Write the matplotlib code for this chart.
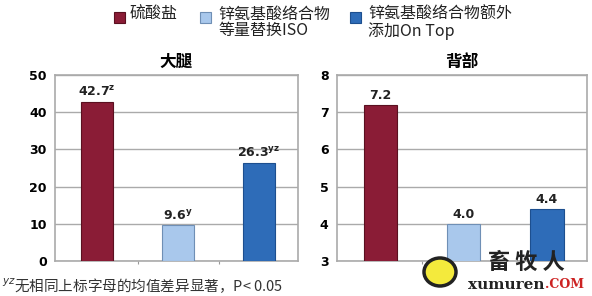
import matplotlib.pyplot as plt
import matplotlib.patches as mpatches

plt.rcParams['font.family'] = ['Noto Sans CJK SC', 'DejaVu Sans']

groups = ['硫酸盐', '锌氨基酸络合物\n等量替换ISO', '锌氨基酸络合物额外\n添加On Top']
colors = ['#8a1c36', '#a9c8ec', '#2e6cb8']
edges = ['#5a1020', '#6f8fb5', '#1d4f8f']

thigh = [42.7, 9.6, 26.3]
thigh_sup = ['z', 'y', 'yz']
back = [7.2, 4.0, 4.4]
back_sup = ['', '', '']

fig = plt.figure(figsize=(5.92, 2.96), dpi=100)
ax1 = fig.add_axes([55/592, 1-261/296, 243/592, 186/296])
ax2 = fig.add_axes([337/592, 1-261/296, 250/592, 186/296])


def draw(ax, vals, sups, ylim, ticks, title):
    x = range(len(vals))
    ax.bar(x, vals, width=0.4, color=colors, edgecolor=edges, linewidth=0.8, zorder=3)
    ax.set_ylim(*ylim)
    ax.set_xlim(-0.52, 2.48)
    ax.set_yticks(ticks)
    ax.set_yticklabels([str(t) for t in ticks], fontweight='bold', fontsize=9,
                       family='DejaVu Sans')
    ax.set_xticks([0.5, 1.5])
    ax.set_xticklabels([])
    ax.tick_params(axis='x', length=2, color='#999999')
    ax.tick_params(axis='y', length=0, pad=6)
    ax.grid(axis='y', color='#aaaaaa', linewidth=1, zorder=0)
    for s in ax.spines.values():
        s.set_color('#aaaaaa')
        s.set_linewidth(1.2)
    span = ylim[1] - ylim[0]
    for i, (v, s) in enumerate(zip(vals, sups)):
        lbl = '%.1f' % v
        if s:
            lbl = r'$\mathbf{%s}^{\mathbf{%s}}$' % (lbl, s)
        ax.text(i, v + span * 0.015, lbl, ha='center', va='bottom',
                fontsize=9, fontweight='bold', family='DejaVu Sans', color='#222222')
    ax.set_title(title, fontsize=12, fontweight='bold', pad=6)


draw(ax1, thigh, thigh_sup, (0, 50), [0, 10, 20, 30, 40, 50], '大腿')
draw(ax2, back, back_sup, (3, 8), [3, 4, 5, 6, 7, 8], '背部')

# legend
leg_x = [114, 200, 350]
txt_x = [130, 218, 368]
for lx, tx, g, c, e in zip(leg_x, txt_x, groups, colors, edges):
    fig.patches.append(mpatches.Rectangle((lx/592, 1-23/296), 11/592, 11/296,
                                          transform=fig.transFigure,
                                          facecolor=c, edgecolor=e, linewidth=0.8))
    fig.text(tx/592, 1-6/296, g, ha='left', va='top', fontsize=11.5,
             linespacing=0.95, color='#222222')

fig.text(2/592, 1-286/296, r'$^{yz}$无相同上标字母的均值差异显著，P< 0.05',
         ha='left', va='center', fontsize=10.5, color='#333333')

# watermark
fig.patches.append(mpatches.Ellipse((440/592, 1-272/296), 32/592, 28/296,
                                    transform=fig.transFigure, facecolor='#f4ea3c',
                                    edgecolor='#222222', linewidth=2.5))
fig.text(526/592, 1-262/296, '畜 牧 人', ha='center', va='center', fontsize=16,
         fontweight='bold', color='#222222')
fig.text(545/592, 1-285/296, 'xumuren', ha='right', va='center', fontsize=11,
         fontweight='bold', color='#222222', family='DejaVu Serif')
fig.text(545/592, 1-285/296, '.COM', ha='left', va='center', fontsize=9,
         fontweight='bold', color='#cc2222', family='DejaVu Serif')

fig.savefig('out.png', dpi=100)
